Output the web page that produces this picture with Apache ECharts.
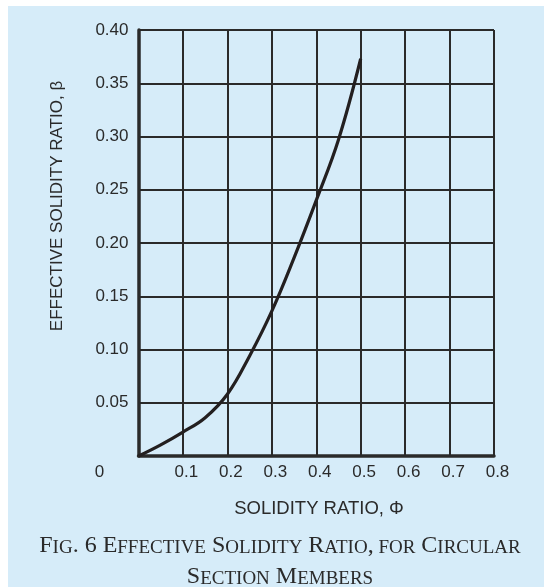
<!DOCTYPE html>
<html>
<head>
<meta charset="utf-8">
<script src="https://cdn.jsdelivr.net/npm/echarts@6/dist/echarts.min.js"></script>
<style>
html,body{margin:0;padding:0;background:#ffffff;}
#c{width:544px;height:587px;}
</style>
</head>
<body>
<div id="c"></div>
<script>
// Solidity ratio (x) values
const phi = [0, 0.05, 0.1, 0.15, 0.2, 0.25, 0.3, 0.35, 0.4, 0.45, 0.5];
// Effective solidity ratio (y) values
const beta = [0, 0.0105, 0.0225, 0.036, 0.058, 0.094, 0.136, 0.186, 0.24, 0.297, 0.373];
const xTicks = [0, 0.1, 0.2, 0.3, 0.4, 0.5, 0.6, 0.7, 0.8];
const yTicks = [0, 0.05, 0.1, 0.15, 0.2, 0.25, 0.3, 0.35, 0.4];
const xName = 'SOLIDITY RATIO, Φ';
const yName = 'EFFECTIVE SOLIDITY RATIO, β';

const chart = echarts.init(document.getElementById('c'), null, {renderer: 'canvas'});
const ink = '#2a2a2a';
const sans = '"Liberation Sans", Arial, sans-serif';
const serif = '"Liberation Serif", "Times New Roman", serif';

const capLine1 = '{b|F}{s|IG}{b|. 6 E}{s|FFECTIVE}{b| S}{s|OLIDITY}{b| R}{s|ATIO}{b|,}{s| FOR}{b| C}{s|IRCULAR}';
const capLine2 = '{b|S}{s|ECTION}{b| M}{s|EMBERS}';
const capRich = {
  b: {fontSize: 24, fontFamily: serif, color: ink, verticalAlign: 'bottom', lineHeight: 26},
  s: {fontSize: 19, fontFamily: serif, color: ink, verticalAlign: 'bottom', lineHeight: 26}
};

chart.setOption({
  backgroundColor: '#ffffff',
  animation: false,
  graphic: [
    {type: 'rect', shape: {x: 8, y: 6, width: 536, height: 581}, style: {fill: '#d6ecf9'}, z: -10, silent: true},
    {type: 'text', x: 99.5, y: 472, style: {text: '0', font: '17px ' + sans, fill: ink, align: 'center', verticalAlign: 'middle'}},
    {type: 'text', x: 57, y: 206, rotation: Math.PI / 2, style: {text: yName, font: '17px ' + sans, fill: ink, align: 'center', verticalAlign: 'middle'}},
    {type: 'text', x: 319, y: 509, style: {text: xName, font: '18.5px ' + sans, fill: ink, align: 'center', verticalAlign: 'middle'}},
    {type: 'text', x: 280, y: 545, style: {text: capLine1, fill: ink, align: 'center', verticalAlign: 'middle', rich: capRich}},
    {type: 'text', x: 280, y: 576, style: {text: capLine2, fill: ink, align: 'center', verticalAlign: 'middle', rich: capRich}}
  ],
  grid: {left: 138.5, right: 50, top: 30, bottom: 131, containLabel: false},
  xAxis: {
    type: 'value', min: xTicks[0], max: xTicks[xTicks.length - 1], interval: 0.1,
    axisLine: {show: true, onZero: false, lineStyle: {color: ink, width: 3.5}},
    axisTick: {show: false},
    axisLabel: {margin: 8, fontSize: 17, fontFamily: sans, color: ink, padding: [0, 0, 0, 7],
      showMinLabel: true, showMaxLabel: true,
      formatter: v => (Math.abs(v) < 1e-9 ? '' : v.toFixed(1))},
    splitLine: {show: true, showMinLine: false, showMaxLine: true, lineStyle: {color: ink, width: 2}}
  },
  yAxis: {
    type: 'value', min: yTicks[0], max: yTicks[yTicks.length - 1], interval: 0.05,
    axisLine: {show: true, onZero: false, lineStyle: {color: ink, width: 3.5}},
    axisTick: {show: false},
    axisLabel: {margin: 10, fontSize: 17, fontFamily: sans, color: ink,
      showMinLabel: true, showMaxLabel: true,
      formatter: v => (Math.abs(v) < 1e-9 ? '' : v.toFixed(2))},
    splitLine: {show: true, showMinLine: false, showMaxLine: true, lineStyle: {color: ink, width: 2}}
  },
  series: [{
    type: 'line',
    data: phi.map((p, i) => [p, beta[i]]),
    smooth: 0.4,
    showSymbol: false,
    symbol: 'none',
    lineStyle: {color: '#231f20', width: 3.2},
    z: 5
  }]
});
</script>
</body>
</html>
